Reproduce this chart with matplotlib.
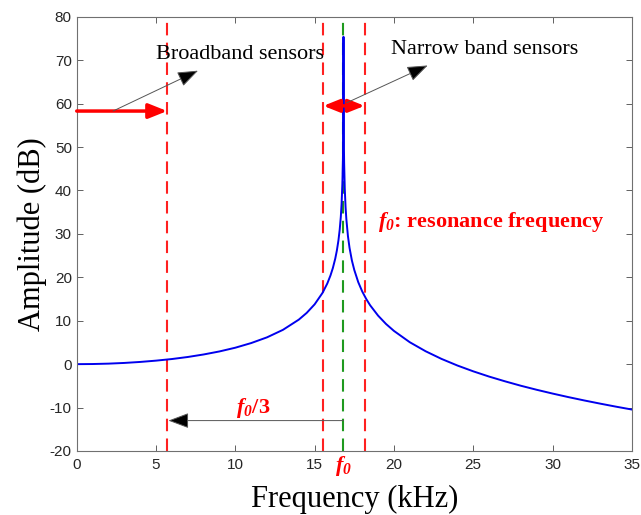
import matplotlib
matplotlib.use('Agg')
import matplotlib.pyplot as plt

# Frequency response (kHz, dB)
freq = [0, 1, 2, 3, 4, 5, 6, 7, 8, 9, 10, 11, 12, 13, 14, 14.5, 15, 15.5, 15.8,
        16, 16.15, 16.3, 16.4, 16.5, 16.58, 16.65, 16.7, 16.75, 16.78, 16.81,
        16.82, 16.83, 16.86, 16.9, 16.95, 17.0, 17.1, 17.2, 17.35, 17.5, 17.75,
        18, 18.25, 18.5, 19, 19.5, 20, 21, 22, 23, 24, 25, 26, 27, 28, 29, 30,
        31, 32, 33, 34, 35]
amp = [0, 0.03, 0.12, 0.28, 0.51, 0.81, 1.18, 1.65, 2.23, 2.93, 3.79, 4.86,
       6.18, 7.9, 10.25, 11.81, 13.78, 16.43, 18.59, 20.44, 22.15, 24.31, 26.14,
       28.47, 30.96, 33.9, 36.95, 41.6, 46.4, 55.0, 75.4, 55.0, 46.4, 40.4, 36.2,
       33.4, 29.5, 26.8, 23.87, 21.7, 18.89, 16.75, 15.03, 13.56, 11.18, 9.26,
       7.66, 5.05, 2.97, 1.21, -0.31, -1.65, -2.86, -3.95, -4.97, -5.9, -6.77,
       -7.59, -8.36, -9.09, -9.79, -10.45]

f0 = 16.82
broad_edge = 5.7
narrow_band = [15.55, 18.15]

xticks = list(range(0, 36, 5))
yticks = list(range(-20, 81, 10))

plt.rcParams['axes.unicode_minus'] = False
plt.rcParams['mathtext.fontset'] = 'custom'
plt.rcParams['mathtext.rm'] = 'Liberation Serif:bold'
plt.rcParams['mathtext.it'] = 'Liberation Serif:italic:bold'
plt.rcParams['mathtext.bf'] = 'Liberation Serif:bold'
plt.rcParams['mathtext.bfit'] = 'Liberation Serif:italic:bold'

F0 = r'$\mathbfit{f_0}$'

fig = plt.figure(figsize=(6.41, 5.15), dpi=100)
ax = fig.add_axes([0.1197, 0.1243, 0.866, 0.843])

# vertical markers
for x in [broad_edge] + narrow_band:
    ax.axvline(x, color='#ff2020', lw=1.5, ls=(0, (6, 3.5)))
ax.axvline(f0, color='#1f9a1f', lw=1.5, ls=(0, (6, 3.5)))

ax.plot(freq, amp, color='#0000ee', lw=1.4)

ax.set_xlim(0, 35)
ax.set_ylim(-20, 80)
ax.set_xticks(xticks)
ax.set_yticks(yticks)
ax.tick_params(direction='in', top=True, right=True, length=4, width=0.7,
               colors='#606060', labelcolor='#262626', labelsize=11)
ax.tick_params(axis='x', pad=5)
for lab in ax.get_xticklabels() + ax.get_yticklabels():
    lab.set_family('Liberation Sans')
for s in ax.spines.values():
    s.set_color('#707070')
    s.set_linewidth(0.8)

ax.set_xlabel('Frequency (kHz)', family='Liberation Serif', fontsize=22, labelpad=9)
ax.set_ylabel('Amplitude (dB)', family='Liberation Serif', fontsize=22, labelpad=2)

# red arrows
ax.annotate('', xy=(broad_edge, 58.3), xytext=(0, 58.3),
            arrowprops=dict(arrowstyle='-|>,head_length=0.7,head_width=0.28',
                            color='red', lw=2.5, shrinkA=0, shrinkB=0,
                            mutation_scale=16))
ax.annotate('', xy=(narrow_band[1], 59.5), xytext=(narrow_band[0], 59.5),
            arrowprops=dict(arrowstyle='<|-|>,head_length=0.6,head_width=0.24',
                            color='red', lw=2.5, shrinkA=0, shrinkB=0,
                            mutation_scale=16))

# black pointer arrows
thin = dict(arrowstyle='-|>,head_length=0.8,head_width=0.3', ec='#555555',
            fc='black', lw=0.7, shrinkA=0, shrinkB=0, mutation_scale=16)
ax.annotate('', xy=(7.65, 67.6), xytext=(2.29, 58.3), arrowprops=thin)
ax.annotate('', xy=(22.13, 68.8), xytext=(17.02, 60.2), arrowprops=thin)
ax.annotate('', xy=(5.78, -13.0), xytext=(f0, -13.0), arrowprops=thin)

ax.text(10.3, 71.3, 'Broadband sensors', family='Liberation Serif',
        fontsize=16, ha='center', va='center')
ax.text(25.7, 72.4, 'Narrow band sensors', family='Liberation Serif',
        fontsize=16, ha='center', va='center')
ax.text(19.0, 32.8, F0 + ': resonance frequency',
        family='Liberation Serif', fontweight='bold', fontsize=16,
        color='red', ha='left', va='center')
ax.text(11.1, -10.0, F0 + '/3', family='Liberation Serif',
        fontweight='bold', fontsize=16, color='red', ha='center', va='center')
ax.annotate(F0, xy=(f0, 0), xycoords=('data', 'axes fraction'),
            xytext=(0, -11), textcoords='offset points', fontsize=16,
            color='red', ha='center', va='center')

fig.savefig('out.png', dpi=100)
